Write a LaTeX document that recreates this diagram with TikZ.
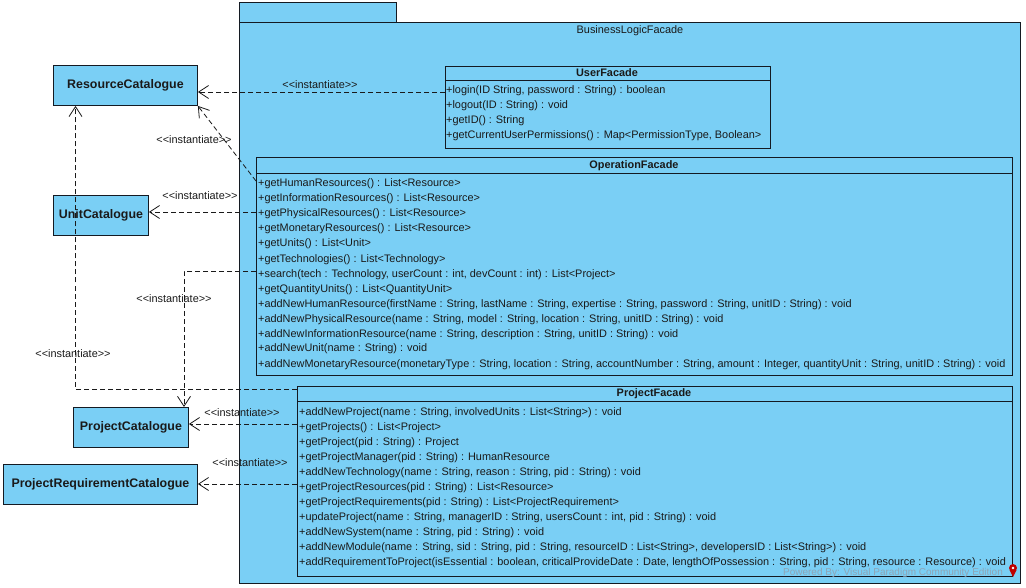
\documentclass[tikz,border=0pt]{standalone}
\usepackage{fontspec}
\setmainfont{Liberation Sans}
\usetikzlibrary{arrows.meta}
\definecolor{vpblue}{HTML}{7ACFF5}
\definecolor{ink}{HTML}{141A22}
\definecolor{txt}{HTML}{1A1A1A}
\definecolor{wmcol}{HTML}{8FA4B4}
\newcommand{\instlabel}{<{}<instantiate>{}>}
\begin{document}
\begin{tikzpicture}[x=1pt,y=-1pt,
  classbox/.style={draw=ink, line width=0.9pt, fill=vpblue, inner sep=0pt, anchor=north west},
  sep/.style={draw=ink, line width=0.9pt},
  catname/.style={font=\fontsize{12.4}{14}\selectfont\bfseries, text=txt},
  ftitle/.style={font=\fontsize{10.9}{13}\selectfont\bfseries, text=txt, inner sep=0pt},
  row/.style={font=\fontsize{10.9}{13}\selectfont, text=txt, inner sep=0pt, anchor=base west},
  lbl/.style={font=\fontsize{10.9}{13}\selectfont, text=txt, inner sep=0pt},
  dep/.style={draw=txt, line width=0.8pt, dash pattern=on 5pt off 3pt, -{Straight Barb[length=10pt,width=13pt,line width=0.8pt]}},
  wm/.style={font=\fontsize{10}{12}\selectfont, text=wmcol, inner sep=0pt}
]
\useasboundingbox (0,0) rectangle (1026,588);
\fill[white] (0,0) rectangle (1026,588);

% package
\draw[sep, fill=vpblue] (239,2) rectangle (396,22);
\node[classbox, minimum width=781pt, minimum height=561pt] (pkg) at (239,22) {};
\node[lbl] (pkgname) at (630,31) {BusinessLogicFacade};

% catalogues
\node[classbox, minimum width=144pt, minimum height=40pt] (rc) at (53,65) {};
\node[catname] (rcname) at (rc.center) {ResourceCatalogue};
\node[classbox, minimum width=95pt, minimum height=40pt] (uc) at (53,195) {};
\node[catname] (ucname) at (uc.center) {UnitCatalogue};
\node[classbox, minimum width=115pt, minimum height=40pt] (pc) at (73,407) {};
\node[catname] (pcname) at (pc.center) {ProjectCatalogue};
\node[classbox, minimum width=194pt, minimum height=40pt] (prc) at (3,464) {};
\node[catname] (prcname) at (prc.center) {ProjectRequirementCatalogue};

% UserFacade
\node[classbox, minimum width=325pt, minimum height=82pt] (uf) at (445,66) {};
\draw[sep] (uf.west |- 0,80) -- (uf.east |- 0,80);
\node[ftitle] (uftitle) at (607,73) {UserFacade};
\foreach \t [count=\i from 0] in {
  {+login(ID String, password : String) : boolean},
  {+logout(ID : String) : void},
  {+getID() : String},
  {+getCurrentUserPermissions() : Map<PermissionType, Boolean>}}
  \node[row] (uf-\i) at (446,{94+15*\i}) {\t};

% OperationFacade
\node[classbox, minimum width=756pt, minimum height=218pt] (of) at (256,157) {};
\draw[sep] (of.west |- 0,173) -- (of.east |- 0,173);
\node[ftitle] (oftitle) at (634,165.5) {OperationFacade};
\foreach \t [count=\i from 0] in {
  {+getHumanResources() : List<Resource>},
  {+getInformationResources() : List<Resource>},
  {+getPhysicalResources() : List<Resource>},
  {+getMonetaryResources() : List<Resource>},
  {+getUnits() : List<Unit>},
  {+getTechnologies() : List<Technology>},
  {+search(tech : Technology, userCount : int, devCount : int) : List<Project>},
  {+getQuantityUnits() : List<QuantityUnit>},
  {+addNewHumanResource(firstName : String, lastName : String, expertise : String, password : String, unitID : String) : void},
  {+addNewPhysicalResource(name : String, model : String, location : String, unitID : String) : void},
  {+addNewInformationResource(name : String, description : String, unitID : String) : void},
  {+addNewUnit(name : String) : void},
  {+addNewMonetaryResource(monetaryType : String, location : String, accountNumber : String, amount : Integer, quantityUnit : String, unitID : String) : void}}
  \node[row] (of-\i) at (258,{187+15*\i}) {\t};

% ProjectFacade
\node[classbox, minimum width=715pt, minimum height=190pt] (pf) at (297,386) {};
\draw[sep] (pf.west |- 0,401) -- (pf.east |- 0,401);
\node[ftitle] (pftitle) at (654,394) {ProjectFacade};
\foreach \t [count=\i from 0] in {
  {+addNewProject(name : String, involvedUnits : List<String>) : void},
  {+getProjects() : List<Project>},
  {+getProject(pid : String) : Project},
  {+getProjectManager(pid : String) : HumanResource},
  {+addNewTechnology(name : String, reason : String, pid : String) : void},
  {+getProjectResources(pid : String) : List<Resource>},
  {+getProjectRequirements(pid : String) : List<ProjectRequirement>},
  {+updateProject(name : String, managerID : String, usersCount : int, pid : String) : void},
  {+addNewSystem(name : String, pid : String) : void},
  {+addNewModule(name : String, sid : String, pid : String, resourceID : List<String>, developersID : List<String>) : void},
  {+addRequirementToProject(isEssential : boolean, criticalProvideDate : Date, lengthOfPossession : String, pid : String, resource : Resource) : void}}
  \node[row] (pf-\i) at (299,{415+15*\i}) {\t};

% watermark
\node[wm] (wmark) at (893,573) {Powered By: Visual Paradigm Community Edition};
\fill[red!75!black] (1013,568) circle (4pt);
\fill[red!75!black] (1009.5,570) -- (1013,577) -- (1016.5,570) -- cycle;
\fill[white] (1013,568) circle (1.3pt);

% connectors
\draw[dep] (uf.west |- 0,92) -- (rc.east |- 0,92);
\draw[dep] (of.west |- 0,181) -- (rc.south east);
\draw[dep] (of.west |- 0,212) -- (uc.east |- 0,212);
\draw[dep] (of.west |- 0,271) -| (184,0 |- pc.north);
\draw[dep] (pf.west |- 0,389) -| (75.5,0 |- rc.south);
\draw[dep] (pf.west |- 0,424) -- (pc.east |- 0,424);
\draw[dep] (pf.west |- 0,484) -- (prc.east |- 0,484);

% labels
\node[lbl] (l1) at (320,85) {\instlabel};
\node[lbl] (l2) at (194,140) {\instlabel};
\node[lbl] (l3) at (200,196) {\instlabel};
\node[lbl] (l4) at (174,299) {\instlabel};
\node[lbl] (l5) at (73,354) {\instlabel};
\node[lbl] (l6) at (242,413) {\instlabel};
\node[lbl] (l7) at (250,463) {\instlabel};
\end{tikzpicture}
\end{document}
